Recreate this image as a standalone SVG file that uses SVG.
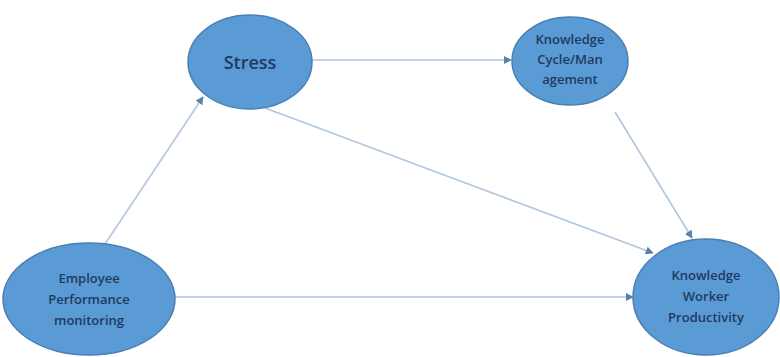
<svg xmlns="http://www.w3.org/2000/svg" width="780" height="357" viewBox="0 0 780 357">
<style>
.n{fill:#5b9bd5;stroke:#4a7fb5;stroke-width:1.5}
.t{font-family:"Open Sans","Liberation Sans",sans-serif;fill:#1f3a5f;font-size:13px;font-weight:600;text-anchor:middle}
.c{stroke:#b0c6de;stroke-width:1.6;fill:none;marker-end:url(#a)}
</style>
<defs>
<marker id="a" viewBox="0 0 10 10" refX="9" refY="5" markerWidth="5" markerHeight="5" orient="auto">
<path d="M0,0L10,5L0,10z" fill="#5a7fa8"/>
</marker>
</defs>
<rect width="780" height="357" fill="#fff"/>
<g id="connectors">
<line class="c" x1="312" y1="60" x2="511" y2="60"/>
<line class="c" x1="105" y1="244" x2="203" y2="97"/>
<line class="c" x1="265" y1="108" x2="653" y2="253"/>
<line class="c" x1="615" y1="112" x2="692" y2="238"/>
<line class="c" x1="175" y1="297" x2="633" y2="297"/>
</g>
<g id="stress">
<ellipse class="n" cx="250" cy="62" rx="62" ry="47"/>
<text class="t" x="250" y="69" style="font-size:18px">Stress</text>
</g>
<g id="kcm">
<ellipse class="n" cx="570" cy="61" rx="58" ry="44"/>
<text class="t" x="570" y="44">Knowledge</text>
<text class="t" x="570" y="64">Cycle/Man</text>
<text class="t" x="570" y="84">agement</text>
</g>
<g id="epm">
<ellipse class="n" cx="89" cy="299" rx="86" ry="56"/>
<text class="t" x="89" y="283">Employee</text>
<text class="t" x="89" y="304">Performance</text>
<text class="t" x="89" y="325">monitoring</text>
</g>
<g id="kwp">
<ellipse class="n" cx="706" cy="297" rx="73" ry="58"/>
<text class="t" x="706" y="280">Knowledge</text>
<text class="t" x="706" y="301">Worker</text>
<text class="t" x="706" y="322">Productivity</text>
</g>
</svg>
